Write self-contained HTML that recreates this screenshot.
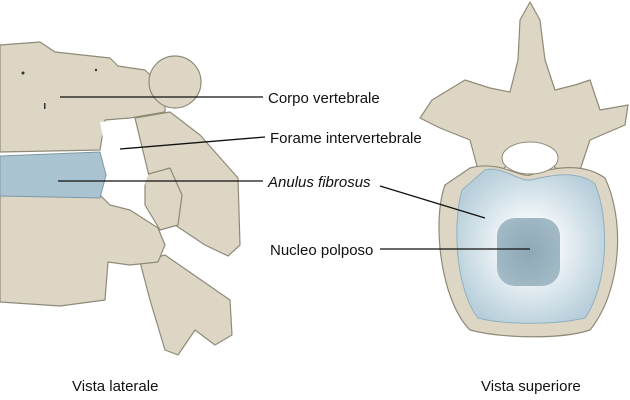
<!DOCTYPE html>
<html><head><style>
html,body{margin:0;padding:0;background:#fff;}
svg{display:block;}
text{font-family:"Liberation Sans",sans-serif;font-size:15px;fill:#111;}
</style></head><body>
<svg width="630" height="400" viewBox="0 0 630 400" xmlns="http://www.w3.org/2000/svg">
<defs>
<radialGradient id="disc" cx="0.5" cy="0.5" r="0.55">
<stop offset="0.3" stop-color="#f4f8fa"/><stop offset="1" stop-color="#b8cfdb"/>
</radialGradient>
<radialGradient id="nuc" cx="0.5" cy="0.5" r="0.6">
<stop offset="0" stop-color="#8ea8b5"/><stop offset="1" stop-color="#a3bbc7"/>
</radialGradient>
</defs>
<g fill="#ddd6c4" stroke="#8f8a78" stroke-width="1.2" stroke-linejoin="round">
<path d="M140,262 L165,255 L230,300 L232,335 L215,345 L195,330 L178,355 L165,350 L150,300 Z"/>
<path d="M135,118 L170,112 L200,135 L238,178 L240,245 L228,256 L205,245 L175,225 L150,180 Z"/>
<path d="M145,175 L170,168 L182,195 L178,225 L160,230 L145,205 Z"/>
<path d="M0,45 L40,42 L55,52 L110,58 L118,66 L145,70 L165,90 L165,112 L130,118 L105,120 L100,150 L0,152 Z"/>
<circle cx="175" cy="82" r="26"/>
<path d="M0,195 L100,195 L110,205 L130,210 L158,228 L165,245 L158,262 L130,265 L108,262 L105,300 L60,306 L0,302 Z"/>
<path d="M530,2 L540,20 L545,60 L555,90 L575,85 L590,80 L600,110 L628,105 L625,125 L590,140 L580,170 L560,172 L545,158 L530,150 L515,158 L500,172 L478,170 L470,140 L440,128 L420,118 L432,100 L465,80 L490,88 L510,92 L518,60 L520,20 Z"/>
<path d="M470,168 C500,160 520,178 530,175 C545,170 580,160 605,178 C625,220 622,290 590,330 C560,340 500,338 470,330 C440,300 432,220 445,185 Z"/>
</g>
<ellipse cx="530" cy="158" rx="28" ry="16" fill="#fff" stroke="#8f8a78"/>
<path d="M485,170 C500,165 520,182 530,180 C545,177 575,168 595,184 C610,220 608,285 585,318 C555,325 505,325 478,318 C456,290 452,225 462,190 Z" fill="url(#disc)" stroke="#8fb0c0"/>
<rect x="497" y="218" width="63" height="68" rx="18" fill="url(#nuc)"/>
<path d="M100,122 L132,120 L148,175 L140,198 L110,200 L105,150 Z" fill="#fff"/>
<path d="M0,156 L100,152 L106,175 L100,198 L0,196 Z" fill="#a9c3d0" stroke="#7e98a6"/>
<g fill="#333">
<circle cx="23" cy="73" r="1.5"/><circle cx="96" cy="70" r="1.2"/><rect x="44" y="103" width="1.5" height="6"/>
</g>
<g stroke="#111" stroke-width="1.3">
<line x1="60" y1="97" x2="263" y2="97"/>
<line x1="120" y1="149" x2="265" y2="137"/>
<line x1="58" y1="181" x2="263" y2="181"/>
<line x1="380" y1="186" x2="485" y2="218"/>
<line x1="380" y1="249" x2="530" y2="249"/>
</g>
<text x="268" y="103">Corpo vertebrale</text>
<text x="270" y="143">Forame intervertebrale</text>
<text x="268" y="187" font-style="italic">Anulus fibrosus</text>
<text x="270" y="255">Nucleo polposo</text>
<text x="72" y="391">Vista laterale</text>
<text x="481" y="391">Vista superiore</text>
</svg>
</body></html>
